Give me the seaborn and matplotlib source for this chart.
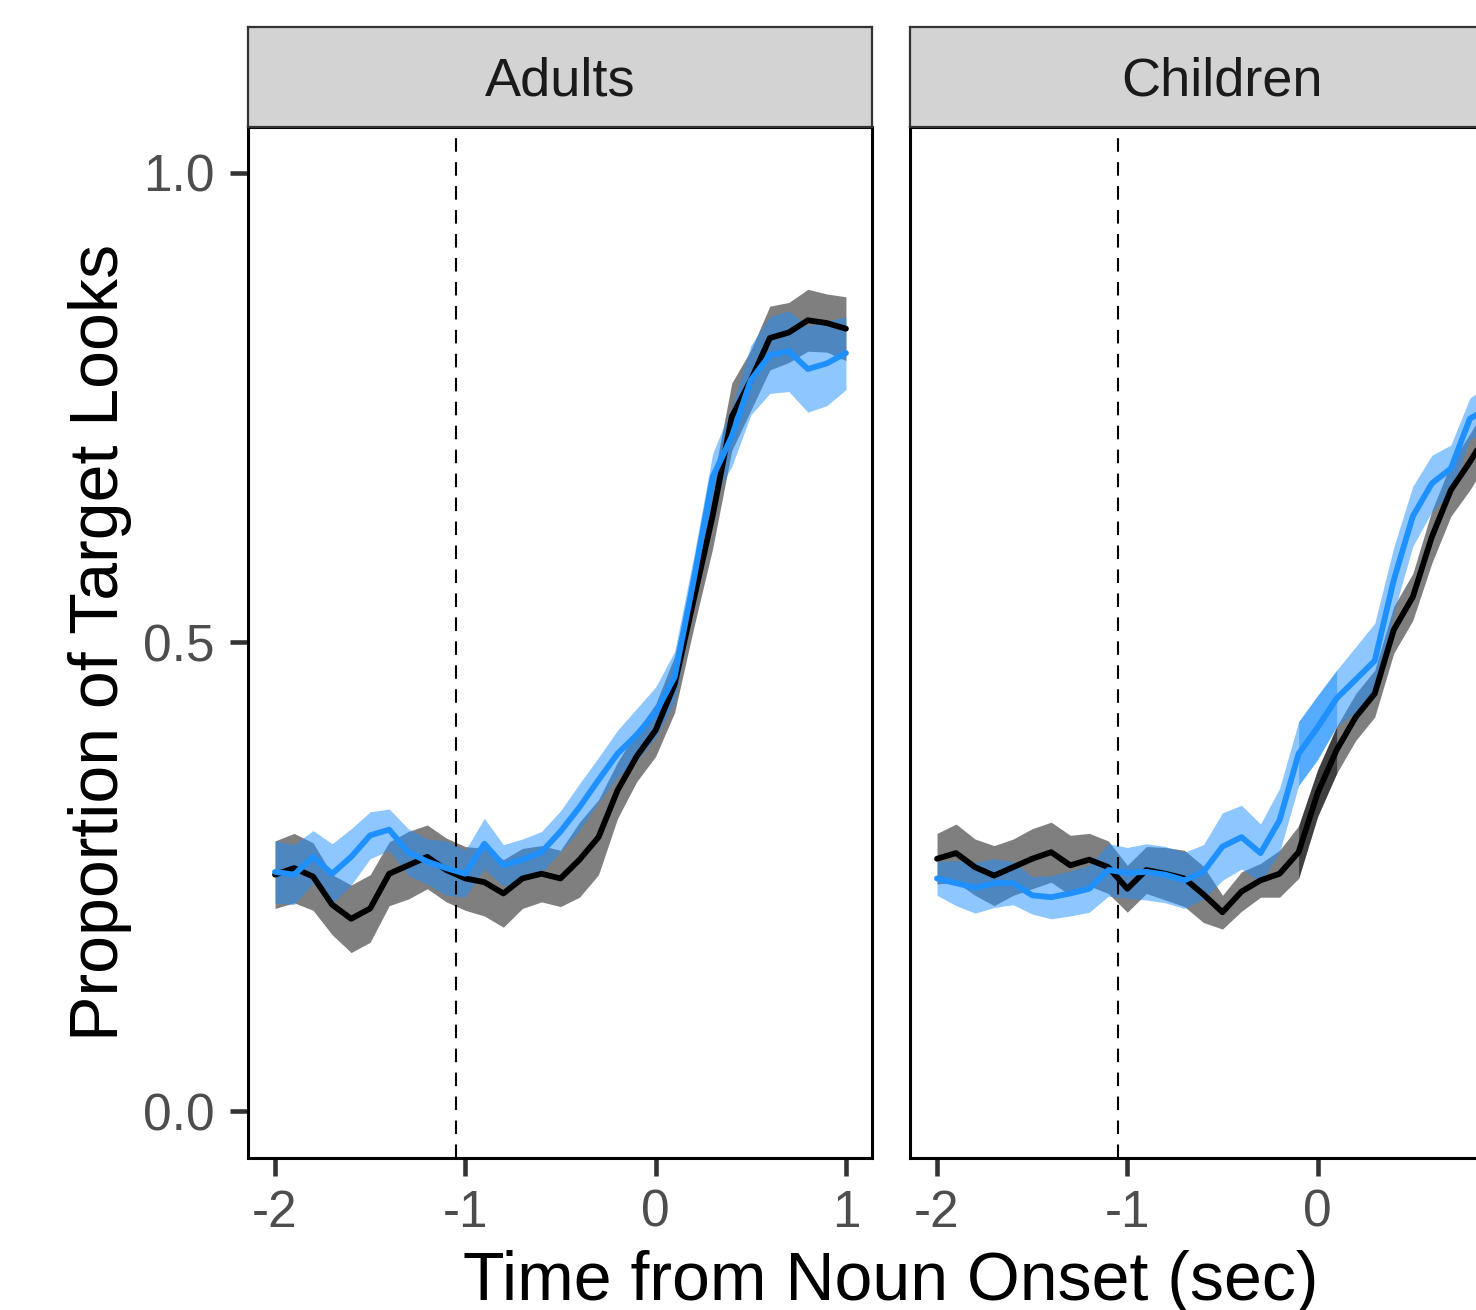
import matplotlib
matplotlib.use("Agg")
import matplotlib.pyplot as plt
import seaborn as sns
import pandas as pd
import numpy as np

# DATA (proportion of target looks, 100 ms bins)
time = [-2.0, -1.9, -1.8, -1.7, -1.6, -1.5, -1.4, -1.3, -1.2, -1.1, -1.0,
        -0.9, -0.8, -0.7, -0.6, -0.5, -0.4, -0.3, -0.2, -0.1, 0.0,
        0.1, 0.2, 0.3, 0.4, 0.5, 0.6, 0.7, 0.8, 0.9, 1.0]

adults_black = [0.252, 0.259, 0.250, 0.220, 0.205, 0.216, 0.253, 0.262, 0.271, 0.257, 0.248,
                0.244, 0.232, 0.248, 0.253, 0.248, 0.268, 0.292, 0.342, 0.378, 0.406,
                0.455, 0.545, 0.635, 0.740, 0.779, 0.824, 0.830, 0.843, 0.840, 0.834]
adults_blue = [0.255, 0.252, 0.271, 0.253, 0.271, 0.294, 0.300, 0.276, 0.266, 0.259, 0.253,
               0.285, 0.262, 0.268, 0.276, 0.298, 0.324, 0.353, 0.381, 0.401, 0.425,
               0.463, 0.566, 0.676, 0.719, 0.779, 0.806, 0.810, 0.791, 0.797, 0.808]
adults_black_se = [0.036, 0.037, 0.036, 0.032, 0.036, 0.036, 0.034, 0.036, 0.034, 0.034, 0.034,
                   0.036, 0.036, 0.032, 0.030, 0.030, 0.040, 0.040, 0.030, 0.027, 0.028,
                   0.030, 0.030, 0.035, 0.036, 0.032, 0.034, 0.032, 0.033, 0.031, 0.034]
adults_blue_se = [0.033, 0.032, 0.028, 0.032, 0.030, 0.025, 0.022, 0.025, 0.024, 0.029, 0.025,
                  0.027, 0.022, 0.022, 0.022, 0.022, 0.025, 0.024, 0.025, 0.028, 0.027,
                  0.027, 0.025, 0.025, 0.032, 0.037, 0.041, 0.043, 0.046, 0.045, 0.039]

children_black = [0.269, 0.275, 0.260, 0.251, 0.260, 0.269, 0.276, 0.262, 0.268, 0.260, 0.237,
                  0.257, 0.253, 0.248, 0.231, 0.212, 0.234, 0.246, 0.253, 0.276, 0.339,
                  0.385, 0.420, 0.445, 0.513, 0.548, 0.612, 0.662, 0.692, 0.725, 0.745]
children_blue = [0.248, 0.243, 0.238, 0.243, 0.243, 0.230, 0.228, 0.232, 0.237, 0.257, 0.254,
                 0.255, 0.252, 0.246, 0.255, 0.282, 0.292, 0.275, 0.310, 0.381, 0.409,
                 0.440, 0.460, 0.480, 0.566, 0.634, 0.669, 0.685, 0.738, 0.750, 0.770]
children_black_se = [0.027, 0.031, 0.030, 0.032, 0.030, 0.032, 0.032, 0.032, 0.028, 0.028, 0.025,
                     0.025, 0.028, 0.030, 0.030, 0.018, 0.021, 0.018, 0.025, 0.028, 0.025,
                     0.025, 0.025, 0.025, 0.025, 0.025, 0.028, 0.028, 0.030, 0.030, 0.030]
children_blue_se = [0.018, 0.024, 0.027, 0.026, 0.023, 0.020, 0.023, 0.024, 0.025, 0.028, 0.027,
                    0.030, 0.030, 0.030, 0.029, 0.036, 0.034, 0.031, 0.034, 0.034, 0.034,
                    0.030, 0.035, 0.040, 0.035, 0.032, 0.030, 0.025, 0.022, 0.025, 0.025]

panels = ["Adults", "Children"]
conditions = ["black", "blue"]
colors = {"black": "black", "blue": "#1E90FF"}
noun_window = -1.05
# children data come in two overlapping windows (pre / post noun onset)
segments = {"Adults": [(-2.0, 1.0)], "Children": [(-2.0, 0.1), (-0.1, 1.0)]}

rows = []
for panel, blk, blu, blk_se, blu_se in [
        ("Adults", adults_black, adults_blue, adults_black_se, adults_blue_se),
        ("Children", children_black, children_blue, children_black_se, children_blue_se)]:
    for cond, vals, se in [("black", blk, blk_se), ("blue", blu, blu_se)]:
        for t, v, s in zip(time, vals, se):
            rows.append({"panel": panel, "cond": cond, "time": t, "prop": v, "se": s})
df = pd.DataFrame(rows)

# STYLE
sns.set_theme(style="white")
plt.rcParams['font.family'] = ['Liberation Sans', 'DejaVu Sans']

W, H = 1476, 1310
fig = plt.figure(figsize=(W / 100, H / 100), dpi=100)


def box(x0, y0, x1, y1):
    return [x0 / W, 1 - y1 / H, (x1 - x0) / W, (y1 - y0) / H]


panel_px = {"Adults": (248, 872), "Children": (910, 1534)}

for i, panel in enumerate(panels):
    x0, x1 = panel_px[panel]
    ax = fig.add_axes(box(x0, 127, x1, 1158))
    sub = df[df["panel"] == panel]

    for cond in conditions:
        for lo, hi in segments[panel]:
            s = sub[(sub["cond"] == cond) & (sub["time"] >= lo - 1e-9) & (sub["time"] <= hi + 1e-9)]
            ax.fill_between(s["time"], s["prop"] - s["se"], s["prop"] + s["se"],
                            color=colors[cond], alpha=0.5, linewidth=0, zorder=1)

    ax.axvline(noun_window, color="black", lw=1.5, ls=(0, (6.5, 5)), zorder=2)

    sns.lineplot(data=sub, x="time", y="prop", hue="cond", hue_order=conditions,
                 palette=colors, errorbar=None, legend=False, linewidth=4.2,
                 ax=ax, zorder=3)

    ax.set_xlim(-2.142, 1.137)
    ax.set_ylim(-0.05, 1.049)
    ax.set_xticks([-2, -1, 0, 1])
    ax.set_xticklabels(["-2", "-1", "0", "1" if i == 0 else ""])
    ax.set_yticks([0.0, 0.5, 1.0])
    ax.set_yticklabels(["0.0", "0.5", "1.0"])
    ax.set_xlabel("")
    ax.set_ylabel("")
    for sp in ax.spines.values():
        sp.set_visible(True)
        sp.set_color("black")
        sp.set_linewidth(2.2)
    ax.tick_params(axis="both", direction="out", length=13, width=3.3,
                   color="#333333", labelsize=37, labelcolor="#4D4D4D")
    ax.tick_params(axis="x", pad=9, bottom=True)
    ax.tick_params(axis="y", pad=11, left=True)
    if i > 0:
        ax.tick_params(axis="y", left=False, labelleft=False)

    # facet strip
    sax = fig.add_axes(box(x0, 27, x1, 127))
    sax.set_facecolor("#D3D3D3")
    sax.set_xticks([])
    sax.set_yticks([])
    for sp in sax.spines.values():
        sp.set_color("#333333")
        sp.set_linewidth(1.6)
    sax.text(0.5, 0.31, panel, transform=sax.transAxes, ha="center", va="baseline",
             fontsize=39, color="#1A1A1A")

fig.text(100 / W, 1 - 642.5 / H, "Proportion of Target Looks", rotation=90,
         ha="center", va="center", fontsize=49, color="black")
fig.text(891 / W, 1 - 1300 / H, "Time from Noun Onset (sec)",
         ha="center", va="baseline", fontsize=49, color="black")

fig.savefig("out.png", dpi=100, facecolor="white")
